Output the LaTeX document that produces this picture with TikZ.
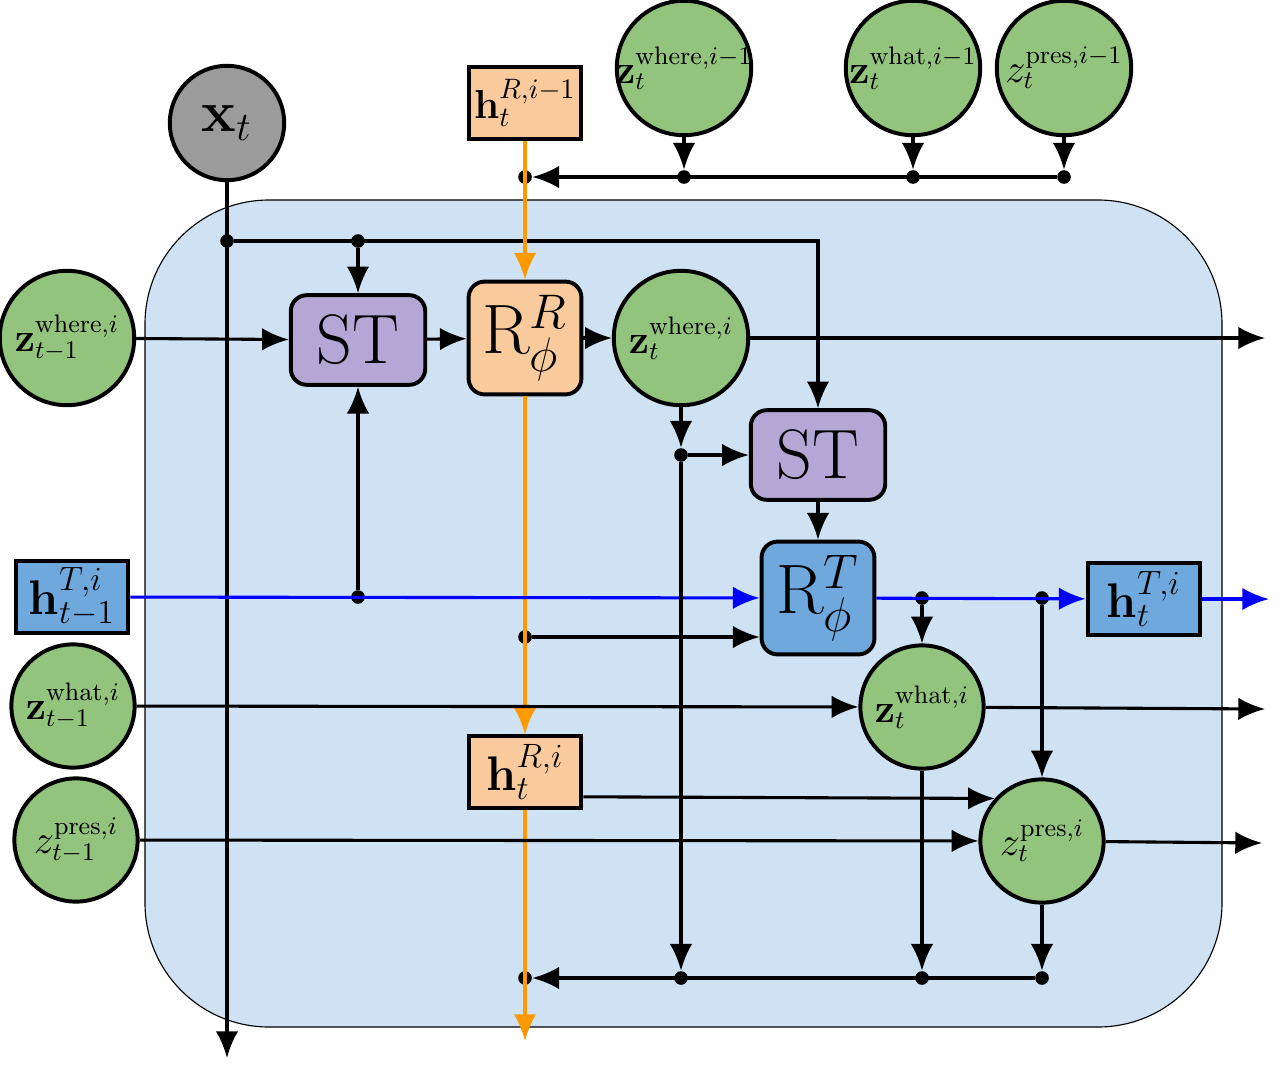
\documentclass[tikz,border=0pt]{standalone}
\usepackage{tikz}
\usetikzlibrary{arrows.meta}

\definecolor{zgreen}{HTML}{93C47D}
\definecolor{xgray}{HTML}{9B9B9B}
\definecolor{rorange}{HTML}{F9CB9C}
\definecolor{stpurple}{HTML}{B4A7D6}
\definecolor{tblue}{HTML}{6FA8DC}
\definecolor{bgblue}{HTML}{CFE2F3}
\definecolor{lorange}{HTML}{FF9900}

\newcommand{\nlab}[1]{\makebox[0pt]{$#1$}}

\tikzset{
	latent/.style={circle, draw, line width=1.4pt, fill=zgreen, inner sep=0pt, minimum size=1.68cm, font=\fontsize{13.5}{16}\selectfont},
	latentsm/.style={latent, minimum size=1.54cm},
	stbox/.style={rectangle, rounded corners=0.2cm, draw, line width=1.4pt, fill=stpurple, minimum width=1.68cm, minimum height=1.12cm, inner sep=0pt, font=\Huge},
	rbox/.style={rectangle, rounded corners=0.2cm, draw, line width=1.4pt, minimum size=1.41cm, inner sep=0pt, font=\fontsize{27}{30}\selectfont},
	hbox/.style={rectangle, draw, line width=1.4pt, minimum width=1.41cm, minimum height=0.89cm, inner sep=0pt, font=\fontsize{17}{20}\selectfont},
	dot/.style={circle, fill, inner sep=0pt, minimum size=0.17cm},
	conn/.style={line width=1.1pt, -{Latex[length=9.5pt,width=8pt]}},
}

\begin{document}
\begin{tikzpicture}[x=0.0125cm, y=-0.0125cm]
	\useasboundingbox (0,0) rectangle (1283,1080);
	\draw [fill=bgblue, line width=0.4pt, rounded corners=1.55cm] (145,200) rectangle (1222,1027);

	% inputs
	\node [circle, draw, line width=1.4pt, fill=xgray, inner sep=0pt, minimum size=1.43cm, font=\fontsize{21}{24}\selectfont] (xt) at (227,123) {$\mathbf{x}_t$};
	\node [hbox, fill=rorange, font=\Large] (hRprev) at (525,103) {$\mathbf{h}_t^{R,i-1}$};
	\node [latent] (zwhereprev) at (684,68) {\nlab{\mathbf{z}_t^{\mathrm{where},i-1}}};
	\node [latent] (zwhatprev) at (913,68) {\nlab{\mathbf{z}_t^{\mathrm{what},i-1}}};
	\node [latent] (zpresprev) at (1064,68) {\nlab{z_t^{\mathrm{pres},i-1}}};
	\node [latent] (zwheretm) at (67,338) {\nlab{\mathbf{z}_{t-1}^{\mathrm{where},i}}};
	\node [hbox, fill=tblue] (hTtm) at (72,597) {$\mathbf{h}_{t-1}^{T,i}$};
	\node [latentsm] (zwhattm) at (73,706) {\nlab{\mathbf{z}_{t-1}^{\mathrm{what},i}}};
	\node [latentsm] (zprestm) at (76,840) {\nlab{z_{t-1}^{\mathrm{pres},i}}};

	% inside the cell
	\node [stbox] (st1) at (358,340) {ST};
	\node [rbox, fill=rorange] (rR) at (525,338) {$\mathrm{R}_\phi^R$};
	\node [latent] (zwheret) at (681,338) {\nlab{\mathbf{z}_t^{\mathrm{where},i}}};
	\node [stbox] (st2) at (818,455) {ST};
	\node [rbox, fill=tblue] (rT) at (818,598) {$\mathrm{R}_\phi^T$};
	\node [hbox, fill=tblue] (hTt) at (1144,599) {$\mathbf{h}_t^{T,i}$};
	\node [latentsm] (zwhatt) at (922,707) {\nlab{\mathbf{z}_t^{\mathrm{what},i}}};
	\node [hbox, fill=rorange] (hRt) at (525,772) {$\mathbf{h}_t^{R,i}$};
	\node [latentsm] (zprest) at (1042,841) {\nlab{z_t^{\mathrm{pres},i}}};

	% junctions
	\node [dot] (dxa) at (227,241) {};
	\node [dot] (dsta) at (358,241) {};
	\node [dot] (dotop) at (525,177) {};
	\node [dot] (dwh) at (684,177) {};
	\node [dot] (dwt) at (913,177) {};
	\node [dot] (dpr) at (1064,177) {};
	\node [dot] (dblue) at (358,597) {};
	\node [dot] (dzw) at (681,455) {};
	\node [dot] (domid) at (525,637) {};
	\node [dot] (dt1) at (922,598) {};
	\node [dot] (dt2) at (1042,598) {};
	\node [dot] (dobot) at (525,978) {};
	\node [dot] (db1) at (681,978) {};
	\node [dot] (db2) at (922,978) {};
	\node [dot] (db3) at (1042,978) {};

	\coordinate (outx) at (227,1058);
	\coordinate (outo) at (525,1041);
	\coordinate (outwhere) at (1265,338);
	\coordinate (outT) at (1269,599);
	\coordinate (outwhat) at (1265,709);
	\coordinate (outpres) at (1262,843);

	% image
	\draw [conn] (xt) -- (outx);
	\draw [conn] (dxa) -| (st2.north);
	\draw [conn] (dsta) -- (st1.north);

	% previous object
	\draw [conn] (zwhereprev) -- (dwh);
	\draw [conn] (zwhatprev) -- (dwt);
	\draw [conn] (zpresprev) -- (dpr);
	\draw [conn] (dpr) -- (dotop);

	% orange path
	\draw [conn, color=lorange] (hRprev) -- (rR);
	\draw [conn, color=lorange] (rR) -- (hRt);
	\draw [conn, color=lorange] (hRt) -- (outo);
	\draw [conn] (domid) -- (rT.west |- domid);

	% blue path
	\draw [conn, color=blue] (hTtm) -- (rT);
	\draw [conn] (dblue) -- (st1.south);
	\draw [conn, color=blue] (rT) -- (hTt);
	\draw [conn, color=blue] (hTt) -- (outT);
	\draw [conn] (dt1) -- (zwhatt);
	\draw [conn] (dt2) -- (zprest);

	% where
	\draw [conn] (zwheretm) -- (st1);
	\draw [conn] (st1) -- (rR);
	\draw [conn] (rR) -- (zwheret);
	\draw [conn] (zwheret) -- (outwhere);
	\draw [conn] (zwheret) -- (dzw);
	\draw [conn] (dzw) -- (st2);
	\draw [conn] (dzw) -- (db1);
	\draw [conn] (st2) -- (rT);

	% what and pres
	\draw [conn] (zwhattm) -- (zwhatt);
	\draw [conn] (zwhatt) -- (outwhat);
	\draw [conn] ([yshift=-0.31cm]hRt.east) -- (zprest.138);
	\draw [conn] (zprestm) -- (zprest);
	\draw [conn] (zprest) -- (outpres);
	\draw [conn] (zwhatt) -- (db2);
	\draw [conn] (zprest) -- (db3);
	\draw [conn] (db3) -- (dobot);
\end{tikzpicture}
\end{document}
